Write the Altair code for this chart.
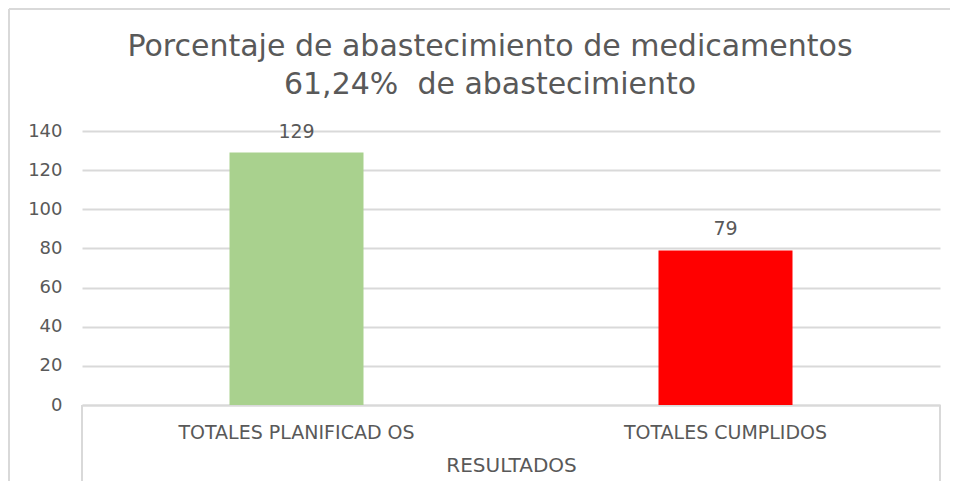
import altair as alt
import pandas as pd

categories = ["TOTALES PLANIFICAD OS", "TOTALES CUMPLIDOS"]
values = [129, 79]
colors = ["#A9D18E", "#FF0000"]
y_ticks = [0, 20, 40, 60, 80, 100, 120, 140]
title_lines = ["Porcentaje de abastecimiento de medicamentos", "61,24%\u00a0 de abastecimiento"]
group_label = "RESULTADOS"

FONT = "DejaVu Sans"
TXT = "#595959"
GRID = "#D9D9D9"

df = pd.DataFrame({"cat": categories, "val": values, "color": colors})

y_enc = alt.Y(
    "val:Q",
    scale=alt.Scale(domain=[0, 140], nice=False),
    axis=alt.Axis(
        title=None,
        values=y_ticks,
        labelOverlap=False,
        labelFontSize=18,
        labelFont=FONT,
        labelColor=TXT,
        labelPadding=20,
        ticks=False,
        domain=False,
        gridColor=GRID,
        gridWidth=2,
    ),
)

base = alt.Chart(df).encode(
    x=alt.X(
        "cat:N",
        sort=categories,
        scale=alt.Scale(paddingInner=0, paddingOuter=0),
        axis=alt.Axis(
            title=group_label,
            labelAngle=0,
            labelLimit=0,
            labelPadding=18,
            labelFontSize=19,
            labelFont=FONT,
            labelColor=TXT,
            titleFont=FONT,
            titleFontSize=20,
            titleFontWeight="normal",
            titleColor=TXT,
            titlePadding=13,
            ticks=False,
            domainColor=GRID,
            domainWidth=2,
        ),
    ),
    y=y_enc,
)

bars = base.mark_bar(width=134).encode(
    color=alt.Color("color:N", scale=None),
)

labels = base.mark_text(dy=-21, fontSize=19, font=FONT, color=TXT).encode(
    text=alt.Text("val:Q"),
)

one = pd.DataFrame({"a": [0]})

title1 = alt.Chart(pd.DataFrame({"t": [title_lines[0]]})).mark_text(
    font=FONT, fontSize=30, color=TXT, align="center", baseline="middle"
).encode(x=alt.value(408), y=alt.value(-84), text="t:N")
title2 = alt.Chart(pd.DataFrame({"t": [title_lines[1]]})).mark_text(
    font=FONT, fontSize=30, color=TXT, align="center", baseline="middle"
).encode(x=alt.value(408), y=alt.value(-46), text="t:N")

frame_left = alt.Chart(one).mark_rule(color=GRID, strokeWidth=2).encode(
    x=alt.value(-73), y=alt.value(-122), y2=alt.value(400)
)
frame_top = alt.Chart(one).mark_rule(color=GRID, strokeWidth=2).encode(
    x=alt.value(-73), x2=alt.value(900), y=alt.value(-122)
)
inner_left = alt.Chart(one).mark_rule(color=GRID, strokeWidth=2).encode(
    x=alt.value(0), y=alt.value(274), y2=alt.value(354)
)
inner_right = alt.Chart(one).mark_rule(color=GRID, strokeWidth=2).encode(
    x=alt.value(858), y=alt.value(274), y2=alt.value(352)
)

chart = alt.layer(
    frame_left, frame_top, inner_left, inner_right, title1, title2, bars, labels
).properties(
    width=858,
    height=274,
    padding={"left": 74, "top": 123, "right": 10, "bottom": 76},
    autosize="none",
).configure(background="white").configure_view(stroke=None)

chart.save("out.html", embed_options={"renderer": "svg", "actions": False})
